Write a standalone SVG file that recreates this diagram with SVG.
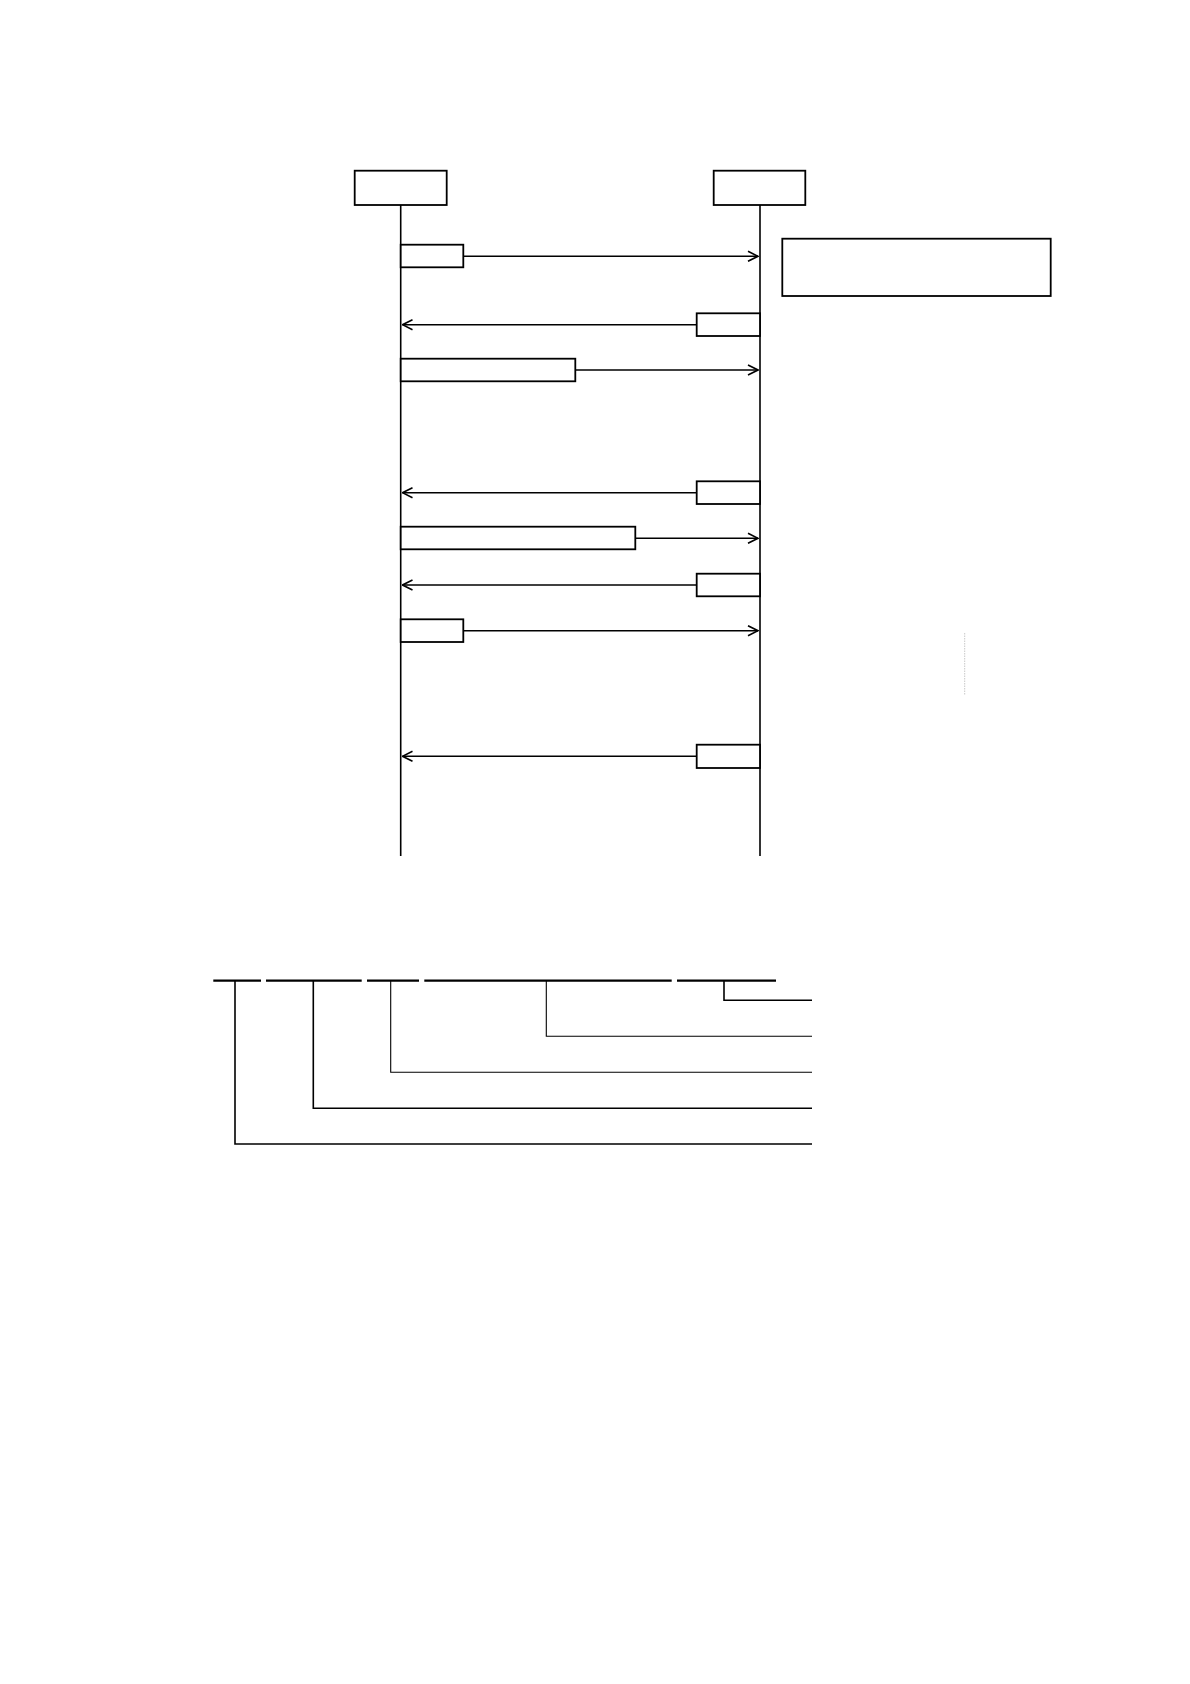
<svg xmlns="http://www.w3.org/2000/svg" width="1190" height="1684" viewBox="0 0 1190 1684">
<style>
.box{fill:#fff;stroke:#000;stroke-width:1.8}
.life{stroke:#000;stroke-width:1.6;fill:none}
.msg{stroke:#000;stroke-width:1.4;fill:none}
.bar{stroke:#000;stroke-width:2.2;fill:none}
.lead{stroke:#000;stroke-width:1.6;fill:none}
.thin{stroke:#000;stroke-width:1.1;fill:none}
</style>
<defs>
<marker id="ah" viewBox="0 0 12 12" refX="11" refY="6" markerWidth="12" markerHeight="12" markerUnits="userSpaceOnUse" orient="auto">
<path d="M1,1 L11,6 L1,11" fill="none" stroke="#000" stroke-width="1.6"/>
</marker>
</defs>
<rect width="1190" height="1684" fill="#fff"/>
<g id="lifelines">
<line class="life" x1="400.7" y1="205" x2="400.7" y2="856"/>
<line class="life" x1="760" y1="205" x2="760" y2="856"/>
</g>
<g id="actorA"><rect class="box" x="354.7" y="170.7" width="92" height="34.3"/></g>
<g id="actorB"><rect class="box" x="713.7" y="170.7" width="91.6" height="34.3"/></g>
<g id="note"><rect class="box" x="782.3" y="238.7" width="268.4" height="57.3"/></g>
<g id="connectors">
<line class="msg" x1="463.3" y1="256.3" x2="758" y2="256.3" marker-end="url(#ah)"/>
<line class="msg" x1="696.7" y1="324.7" x2="402.5" y2="324.7" marker-end="url(#ah)"/>
<line class="msg" x1="575.3" y1="370" x2="758" y2="370" marker-end="url(#ah)"/>
<line class="msg" x1="696.7" y1="492.7" x2="402.5" y2="492.7" marker-end="url(#ah)"/>
<line class="msg" x1="635.3" y1="538.3" x2="758" y2="538.3" marker-end="url(#ah)"/>
<line class="msg" x1="696.7" y1="585" x2="402.5" y2="585" marker-end="url(#ah)"/>
<line class="msg" x1="463.3" y1="630.7" x2="758" y2="630.7" marker-end="url(#ah)"/>
<line class="msg" x1="696.7" y1="756.3" x2="402.5" y2="756.3" marker-end="url(#ah)"/>
</g>
<g id="m1"><rect class="box" x="400.7" y="244.7" width="62.6" height="22.6"/></g>
<g id="m2"><rect class="box" x="696.7" y="313.3" width="63.3" height="22.7"/></g>
<g id="m3"><rect class="box" x="400.7" y="358.7" width="174.6" height="22.6"/></g>
<g id="m4"><rect class="box" x="696.7" y="481.3" width="63.3" height="22.7"/></g>
<g id="m5"><rect class="box" x="400.7" y="526.7" width="234.6" height="22.6"/></g>
<g id="m6"><rect class="box" x="696.7" y="573.7" width="63.3" height="22.6"/></g>
<g id="m7"><rect class="box" x="400.7" y="619.3" width="62.6" height="22.7"/></g>
<g id="m8"><rect class="box" x="696.7" y="744.7" width="63.3" height="23.3"/></g>
<g id="faint"><line x1="964.7" y1="633" x2="964.7" y2="695" stroke="#c8c8c8" stroke-width="1" stroke-dasharray="1.5 1"/></g>
<g id="code">
<line class="bar" x1="213.3" y1="980.7" x2="261" y2="980.7"/>
<line class="bar" x1="266" y1="980.7" x2="361.7" y2="980.7"/>
<line class="bar" x1="367" y1="980.7" x2="419" y2="980.7"/>
<line class="bar" x1="424.3" y1="980.7" x2="671.7" y2="980.7"/>
<line class="bar" x1="677" y1="980.7" x2="776" y2="980.7"/>
<polyline class="lead" points="235,981 235,1144 812,1144"/>
<polyline class="lead" points="313.3,981 313.3,1108.3 812,1108.3"/>
<polyline class="thin" points="390.7,981 390.7,1072.3 812,1072.3"/>
<polyline class="thin" points="546.3,981 546.3,1036.3 812,1036.3"/>
<polyline class="lead" points="724,981 724,1000.3 812,1000.3"/>
</g>
</svg>
